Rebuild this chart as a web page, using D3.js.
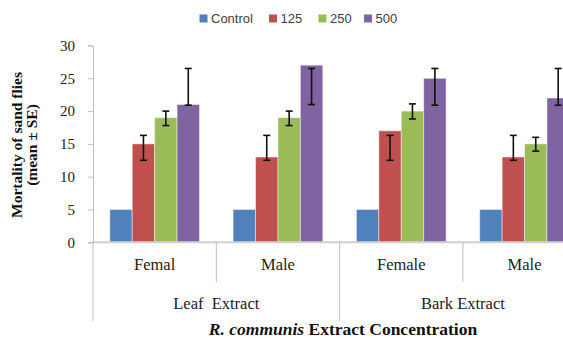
<!DOCTYPE html>
<html>
<head>
<meta charset="utf-8">
<script src="https://cdn.jsdelivr.net/npm/d3@7"></script>
<style>
  html, body { margin: 0; padding: 0; background: #fff; }
  svg { display: block; }
</style>
</head>
<body>
<svg id="chart" width="563" height="338"></svg>
<script>
// Sub-groups (sex) along the x axis and the extract each pair belongs to
const categories = ["Femal", "Male", "Female", "Male"];
const extracts = ["Leaf  Extract", "Bark Extract"];
const series = ["Control", "125", "250", "500"];
const colors = ["#4F81BD", "#C0504D", "#9BBB59", "#8064A2"];

// Mean mortality per concentration, one value per sub-group
const controlVals = [5, 5, 5, 5];
const c125Vals = [15, 13, 17, 13];
const c250Vals = [19, 19, 20, 15];
const c500Vals = [21, 27, 25, 22];

// Error bar ends (upper / lower) per concentration
const c125High = [16.3, 16.3, 16.3, 16.3];
const c125Low  = [12.5, 12.5, 12.5, 12.5];
const c250High = [20.0, 20.0, 21.1, 16.0];
const c250Low  = [17.8, 17.8, 18.8, 13.9];
const c500High = [26.5, 26.5, 26.5, 26.5];
const c500Low  = [20.9, 21.0, 20.9, 20.9];

const yTicks = [0, 5, 10, 15, 20, 25, 30];

const values = [controlVals, c125Vals, c250Vals, c500Vals];
const highs = [null, c125High, c250High, c500High];
const lows = [null, c125Low, c250Low, c500Low];

const svg = d3.select("#chart");

const left = 93, groupW = 123.3;
const x0 = d3.scaleBand()
  .domain(d3.range(categories.length))
  .range([left, left + groupW * categories.length])
  .paddingInner(0).paddingOuter(0);
const x1 = d3.scaleBand()
  .domain(d3.range(series.length))
  .range([0, x0.bandwidth()])
  .paddingInner(0).paddingOuter(0.75);
const y = d3.scaleLinear().domain([0, 30]).range([242.3, 45.5]);

const axisColor = "#BFBFBF";

// Bars
const bars = [];
series.forEach((s, si) => {
  categories.forEach((c, ci) => {
    bars.push({ si, ci, v: values[si][ci], hi: highs[si] ? highs[si][ci] : null, lo: lows[si] ? lows[si][ci] : null });
  });
});

svg.append("g").selectAll("rect").data(bars).join("rect")
  .attr("x", d => x0(d.ci) + x1(d.si))
  .attr("y", d => y(d.v))
  .attr("width", x1.bandwidth())
  .attr("height", d => y(0) - y(d.v))
  .attr("fill", d => colors[d.si])
  .attr("stroke", "rgba(255,255,255,0.45)")
  .attr("stroke-width", 1);

// Baseline
svg.append("line")
  .attr("x1", left).attr("x2", 563)
  .attr("y1", y(0)).attr("y2", y(0))
  .attr("stroke", "#D0D0D0").attr("stroke-width", 2);

// Y axis
const yAxis = d3.axisLeft(y).tickValues(yTicks).tickSize(5).tickPadding(13);
const yg = svg.append("g").attr("transform", `translate(${left},0)`).call(yAxis);
yg.select(".domain").attr("stroke", axisColor);
yg.selectAll(".tick line").attr("stroke", axisColor);
yg.selectAll(".tick text")
  .attr("font-family", "'Liberation Serif', 'Times New Roman', serif")
  .attr("font-size", 15)
  .attr("fill", "#222");

// Y axis line continues down through the category label area
svg.append("line")
  .attr("x1", left).attr("x2", left)
  .attr("y1", y(0)).attr("y2", 321)
  .attr("stroke", axisColor).attr("stroke-width", 1);

// Error bars
const errs = bars.filter(d => d.hi != null);
const eg = svg.append("g").attr("stroke", "#111").attr("stroke-width", 1.6);
errs.forEach(d => {
  const cx = x0(d.ci) + x1(d.si) + x1.bandwidth() / 2;
  eg.append("line").attr("x1", cx).attr("x2", cx).attr("y1", y(d.hi)).attr("y2", y(d.lo));
  eg.append("line").attr("x1", cx - 3.5).attr("x2", cx + 3.5).attr("y1", y(d.hi)).attr("y2", y(d.hi));
  eg.append("line").attr("x1", cx - 3.5).attr("x2", cx + 3.5).attr("y1", y(d.lo)).attr("y2", y(d.lo));
});

// Category dividers
categories.forEach((c, ci) => {
  if (ci === 0) return;
  const xx = x0(ci);
  const major = ci % 2 === 0;
  svg.append("line")
    .attr("x1", xx).attr("x2", xx)
    .attr("y1", y(0)).attr("y2", major ? 321 : 282)
    .attr("stroke", axisColor).attr("stroke-width", 1);
});

const serif = "'Liberation Serif', 'Times New Roman', serif";

// Sub-group labels
svg.append("g").selectAll("text").data(categories).join("text")
  .attr("x", (d, i) => x0(i) + x0.bandwidth() / 2)
  .attr("y", 270)
  .attr("text-anchor", "middle")
  .attr("font-family", serif)
  .attr("font-size", 16.5)
  .attr("fill", "#222")
  .text(d => d);

// Extract labels
svg.append("g").selectAll("text").data(extracts).join("text")
  .attr("x", (d, i) => x0(i * 2) + x0.bandwidth())
  .attr("y", 309)
  .attr("text-anchor", "middle")
  .attr("font-family", serif)
  .attr("font-size", 16.5)
  .attr("fill", "#222")
  .style("white-space", "pre")
  .text(d => d);

// X axis title
const xt = svg.append("text")
  .attr("x", 343)
  .attr("y", 335)
  .attr("text-anchor", "middle")
  .attr("font-family", serif)
  .attr("font-size", 17.5)
  .attr("font-weight", "bold")
  .attr("fill", "#111");
xt.append("tspan").attr("font-style", "italic").text("R. communis");
xt.append("tspan").text(" Extract Concentration");

// Y axis title (two lines)
const yTitle = svg.append("text")
  .attr("transform", "translate(22,145) rotate(-90)")
  .attr("text-anchor", "middle")
  .attr("font-family", serif)
  .attr("font-size", 15.5)
  .attr("font-weight", "bold")
  .attr("fill", "#111");
yTitle.append("tspan").attr("x", 0).attr("y", 0).text("Mortality of sand flies");
yTitle.append("tspan").attr("x", 0).attr("y", 15).text("(mean ± SE)");

// Legend
const legend = svg.append("g").attr("font-family", "'Liberation Sans', Arial, sans-serif").attr("font-size", 13);
const legendX = [199.5, 269, 318.5, 364];
series.forEach((s, i) => {
  legend.append("rect")
    .attr("x", legendX[i]).attr("y", 14.5)
    .attr("width", 8).attr("height", 8)
    .attr("fill", colors[i]);
  legend.append("text")
    .attr("x", legendX[i] + 11.5).attr("y", 23)
    .attr("fill", "#404040")
    .text(s);
});
</script>
</body>
</html>
